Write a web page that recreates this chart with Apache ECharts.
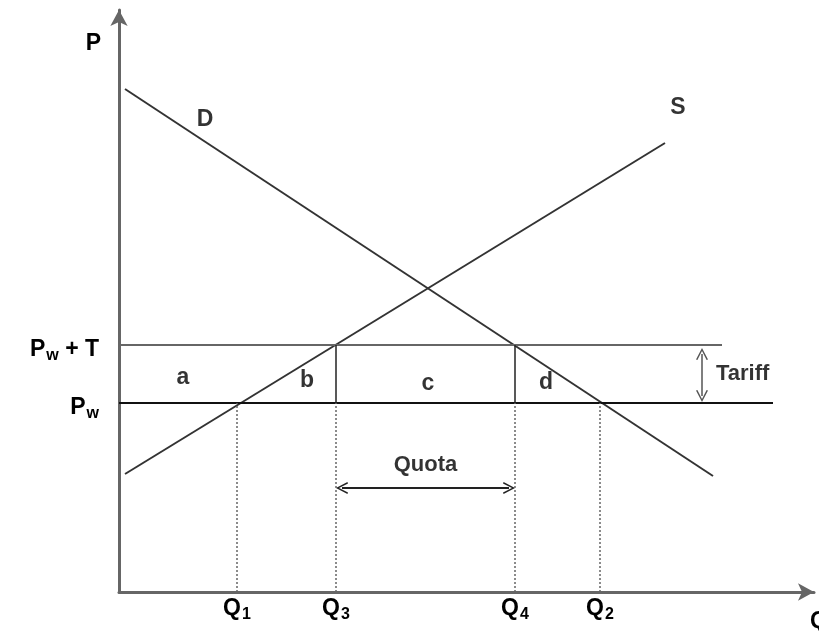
<!DOCTYPE html>
<html>
<head>
<meta charset="utf-8">
<title>Tariff vs quota</title>
<script src="https://cdn.jsdelivr.net/npm/echarts@6/dist/echarts.min.js"></script>
<style>
  html, body { margin: 0; background: #fff; }
  #main { width: 819px; height: 635px; }
</style>
</head>
<body>
<div id="main"></div>
<script>
// quantities on the Q axis and the two price levels
var qNames = ['Q1', 'Q3', 'Q4', 'Q2'];
var qValues = [118, 217, 396, 481];
var pw = 189;
var pwT = 247;

// demand and supply end points [q, p]
var demand = [[6, 503], [594, 116]];
var supply = [[6, 118], [546, 449]];

// how far the two price lines run
var pwEnd = 654;
var pwTEnd = 603;

// tariff arrow position and quota arrow height
var tariffQ = 583;
var quotaP = 104;

// text on the plot: [q, p, text]
var areaLabels = [[64, 214, 'a'], [188, 211, 'b'], [309, 208, 'c'], [427, 209, 'd']];
var curveLabels = [[86, 472, 'D'], [559, 484, 'S']];

var font = 'Liberation Sans, Arial, sans-serif';
var rich = {
    m: { fontSize: 23, fontWeight: 'bold', fontFamily: font, color: '#000' },
    s: { fontSize: 16, fontWeight: 'bold', fontFamily: font, color: '#000', padding: [12, 0, 0, 1] }
};
var richY = {
    m: { fontSize: 23, fontWeight: 'bold', fontFamily: font, color: '#000', padding: [10, 0, 0, 0] },
    s: { fontSize: 16, fontWeight: 'bold', fontFamily: font, color: '#000', padding: [22, 0, 0, 1] }
};

function seg(pts, color, width, type) {
    return {
        type: 'line', data: pts, symbol: 'none', silent: true,
        lineStyle: { color: color, width: width, type: type || 'solid' }
    };
}

var chevron = 'path://M0,12 L6,0 L12,12 L10.6,12.6 L6,3.2 L1.4,12.6 Z';

var myChart = echarts.init(document.getElementById('main'));

var series = [
    seg(demand, '#333', 2),
    seg(supply, '#333', 2),
    seg([[0, pw], [pwEnd, pw]], '#111', 2),
    seg([[0, pwT], [pwTEnd, pwT]], '#666', 2),
    seg([[qValues[1], pw], [qValues[1], pwT]], '#222', 1.5),
    seg([[qValues[2], pw], [qValues[2], pwT]], '#222', 1.5)
];
// dotted drop lines
[[qValues[0], pw], [qValues[1], pw], [qValues[2], pw], [qValues[3], pw]].forEach(function (p) {
    series.push(seg([[p[0], 0], p], '#666', 1.5, [2, 2]));
});
// arrows
series.push({
    type: 'line', data: [], silent: true,
    markLine: {
        silent: true,
        symbol: [chevron, chevron],
        symbolSize: [12, 12],
        label: { show: false },
        lineStyle: { color: '#222', width: 2, type: 'solid' },
        data: [
            [{ coord: [qValues[1] + 6, quotaP] }, { coord: [qValues[2] - 6, quotaP] }],
            [{ coord: [tariffQ, pwT - 9], lineStyle: { color: '#555', width: 1.5 } }, { coord: [tariffQ, pw + 7] }]
        ]
    }
});
// text labels
series.push({
    type: 'scatter', symbolSize: 0, silent: true,
    data: areaLabels.concat(curveLabels),
    label: {
        show: true, position: 'inside', formatter: function (p) { return p.value[2]; },
        fontSize: 23, fontWeight: 'bold', fontFamily: font, color: '#000'
    }
});
series.push({
    type: 'scatter', symbolSize: 0, silent: true,
    data: [[(qValues[1] + qValues[2]) / 2, 127, 'Quota'], [tariffQ + 14, (pw + pwT) / 2, 'Tariff']],
    label: {
        show: true, position: 'inside', formatter: function (p) { return p.value[2]; },
        fontSize: 22, fontWeight: 'bold', fontFamily: font, color: '#000'
    },
    labelLayout: function (p) {
        return p.dataIndex === 1 ? { align: 'left' } : {};
    }
});

var option = {
    animation: false,
    grid: { left: 119, right: 5, top: 10, bottom: 43, outerBoundsMode: 'none' },
    xAxis: {
        type: 'value', min: 0, max: 695,
        name: 'Q', nameLocation: 'end', nameGap: -4,
        nameTextStyle: { align: 'left', verticalAlign: 'top', padding: [18, 0, 0, 0], fontSize: 23, fontWeight: 'bold', fontFamily: font, color: '#000' },
        splitLine: { show: false },
        axisTick: { show: false },
        axisLine: { lineStyle: { color: '#666', width: 3 }, symbol: ['none', 'arrow'], symbolSize: [13, 16] },
        axisLabel: {
            customValues: qValues, margin: 3, rich: rich,
            formatter: function (v) {
                var n = qNames[qValues.indexOf(v)];
                return '{m|' + n[0] + '}{s|' + n.slice(1) + '}';
            }
        }
    },
    yAxis: {
        type: 'value', min: 0, max: 582,
        name: 'P', nameLocation: 'end', nameGap: -34,
        nameTextStyle: { align: 'right', verticalAlign: 'middle', padding: [0, 18, 0, 0], fontSize: 23, fontWeight: 'bold', fontFamily: font, color: '#000' },
        splitLine: { show: false },
        axisTick: { show: false },
        axisLine: { lineStyle: { color: '#666', width: 3 }, symbol: ['none', 'arrow'], symbolSize: [13, 16] },
        axisLabel: {
            customValues: [pw, pwT], margin: 20, rich: richY,
            formatter: function (v) {
                return v === pw ? '{m|P}{s|w}' : '{m|P}{s|w}{m| + T}';
            }
        }
    },
    series: series
};
myChart.setOption(option);
</script>
</body>
</html>
